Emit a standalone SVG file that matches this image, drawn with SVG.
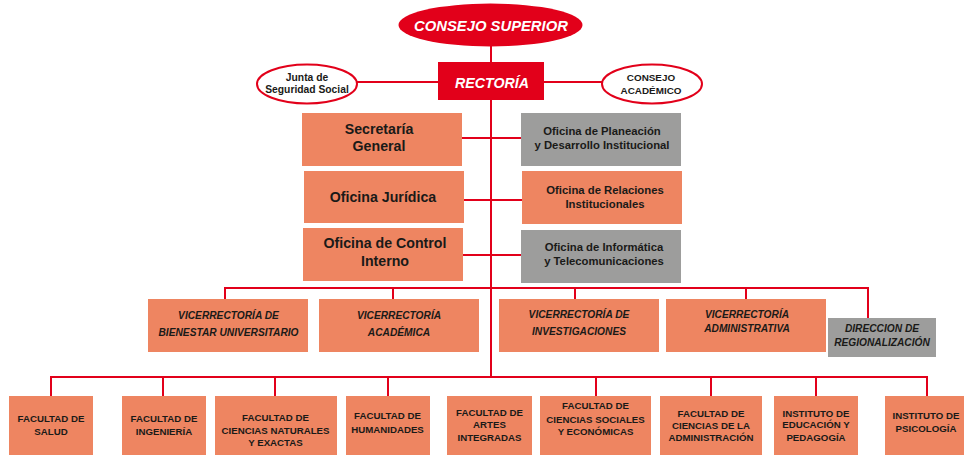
<svg xmlns="http://www.w3.org/2000/svg" width="964" height="455" viewBox="0 0 964 455">
<style>
.bg{fill:#ffffff}
.box{fill:#EE8561}
.gray{fill:#9D9D9C}
.redf{fill:#E2001A}
.oval{fill:#ffffff;stroke:#E2001A;stroke-width:2}
.ln{stroke:#E2001A;stroke-width:2;fill:none}
text{font-family:"Liberation Sans",Arial,sans-serif;font-weight:bold;fill:#1A1A18;text-anchor:middle}
.w{fill:#ffffff;font-style:italic}
.it{font-style:italic}
.f14{font-size:14.2px}
.f11{font-size:11.3px}
.f10{font-size:10.2px}
.f9{font-size:9.7px}
</style>
<rect class="bg" x="0" y="0" width="964" height="455"/>
<g id="connectors">
<path class="ln" d="M491 46 V377"/>
<path class="ln" d="M357 82 H602"/>
<path class="ln" d="M462 138 H521 M464 200 H522 M463 255 H521"/>
<path class="ln" d="M225 299 V288 H868 V318 M393 288 V299 M575 288 V299 M746 288 V299"/>
<path class="ln" d="M51 396 V377 H927 V396 M163 377 V396 M275 377 V396 M388 377 V396 M596 377 V396 M711 377 V396 M816 377 V396"/>
</g>
<g id="consejo-superior">
<ellipse class="redf" cx="490.5" cy="25" rx="92" ry="21.5"/>
<text class="w" x="491" y="31" style="font-size:14.8px">CONSEJO SUPERIOR</text>
</g>
<g id="rectoria">
<rect class="redf" x="438" y="62" width="106" height="38"/>
<text class="w" x="492" y="87.5" style="font-size:14.2px">RECTORÍA</text>
</g>
<g id="junta">
<ellipse class="oval" cx="307" cy="84" rx="50" ry="19.5"/>
<text x="307" y="80.5" style="font-size:10.3px">Junta de</text>
<text x="307" y="92.5" style="font-size:10.3px">Seguridad Social</text>
</g>
<g id="consejo-academico">
<ellipse class="oval" cx="652" cy="84" rx="50" ry="19.5"/>
<text x="651" y="80.5" style="font-size:9.9px">CONSEJO</text>
<text x="651" y="93.5" style="font-size:9.9px">ACADÉMICO</text>
</g>
<g id="secretaria">
<rect class="box" x="302" y="113" width="160" height="53"/>
<text class="f14" x="379" y="134">Secretaría</text>
<text class="f14" x="379" y="151">General</text>
</g>
<g id="planeacion">
<rect class="gray" x="521" y="113" width="160" height="53"/>
<text class="f11" x="602" y="135">Oficina de Planeación</text>
<text class="f11" x="602" y="149">y Desarrollo Institucional</text>
</g>
<g id="juridica">
<rect class="box" x="304" y="171" width="160" height="52"/>
<text class="f14" x="383" y="202">Oficina Jurídica</text>
</g>
<g id="relaciones">
<rect class="box" x="522" y="171" width="160" height="53"/>
<text class="f11" x="605" y="194">Oficina de Relaciones</text>
<text class="f11" x="605" y="207.5">Institucionales</text>
</g>
<g id="control">
<rect class="box" x="303" y="228" width="160" height="53"/>
<text class="f14" x="385" y="248">Oficina de Control</text>
<text class="f14" x="385" y="266">Interno</text>
</g>
<g id="informatica">
<rect class="gray" x="521" y="230" width="160" height="53"/>
<text class="f11" x="604" y="251">Oficina de Informática</text>
<text class="f11" x="604" y="264.5">y Telecomunicaciones</text>
</g>
<g id="vic-bienestar">
<rect class="box" x="148" y="299" width="160" height="53"/>
<text class="f10 it" x="228.5" y="319">VICERRECTORÍA DE</text>
<text class="f10 it" x="228.5" y="336">BIENESTAR UNIVERSITARIO</text>
</g>
<g id="vic-academica">
<rect class="box" x="319" y="299" width="160" height="53"/>
<text class="f10 it" x="399" y="319">VICERRECTORÍA</text>
<text class="f10 it" x="399" y="336">ACADÉMICA</text>
</g>
<g id="vic-investigaciones">
<rect class="box" x="499" y="299" width="160" height="53"/>
<text class="f10 it" x="579" y="318">VICERRECTORÍA DE</text>
<text class="f10 it" x="579" y="335">INVESTIGACIONES</text>
</g>
<g id="vic-administrativa">
<rect class="box" x="666" y="299" width="160" height="53"/>
<text class="f10 it" x="747" y="318">VICERRECTORÍA</text>
<text class="f10 it" x="747" y="332">ADMINISTRATIVA</text>
</g>
<g id="regionalizacion">
<rect class="gray" x="828" y="318" width="108" height="39"/>
<text class="f10 it" x="882" y="332">DIRECCION DE</text>
<text class="f10 it" x="882" y="346">REGIONALIZACIÓN</text>
</g>
<g id="fac-salud">
<rect class="box" x="9" y="396" width="84" height="59"/>
<text class="f9" x="51" y="422">FACULTAD DE</text>
<text class="f9" x="51" y="434.5">SALUD</text>
</g>
<g id="fac-ingenieria">
<rect class="box" x="122" y="396" width="84" height="59"/>
<text class="f9" x="164" y="422">FACULTAD DE</text>
<text class="f9" x="164" y="434.5">INGENIERÍA</text>
</g>
<g id="fac-naturales">
<rect class="box" x="215" y="396" width="122" height="59"/>
<text class="f9" x="275.5" y="421">FACULTAD DE</text>
<text class="f9" x="275.5" y="434">CIENCIAS NATURALES</text>
<text class="f9" x="275.5" y="446">Y EXACTAS</text>
</g>
<g id="fac-humanidades">
<rect class="box" x="346" y="396" width="84" height="59"/>
<text class="f9" x="387.5" y="419">FACULTAD DE</text>
<text class="f9" x="387.5" y="432.5">HUMANIDADES</text>
</g>
<g id="fac-artes">
<rect class="box" x="447" y="396" width="85" height="59"/>
<text class="f9" x="489.5" y="415.5">FACULTAD DE</text>
<text class="f9" x="489.5" y="427.5">ARTES</text>
<text class="f9" x="489.5" y="441">INTEGRADAS</text>
</g>
<g id="fac-sociales">
<rect class="box" x="540" y="396" width="111" height="59"/>
<text class="f9" x="595.5" y="409">FACULTAD DE</text>
<text class="f9" x="595.5" y="422.5">CIENCIAS SOCIALES</text>
<text class="f9" x="595.5" y="435">Y ECONÓMICAS</text>
</g>
<g id="fac-administracion">
<rect class="box" x="660" y="396" width="102" height="59"/>
<text class="f9" x="711" y="417">FACULTAD DE</text>
<text class="f9" x="711" y="428.5">CIENCIAS DE LA</text>
<text class="f9" x="711" y="441">ADMINISTRACIÓN</text>
</g>
<g id="inst-educacion">
<rect class="box" x="774" y="396" width="84" height="59"/>
<text class="f9" x="816" y="417">INSTITUTO DE</text>
<text class="f9" x="816" y="428">EDUCACIÓN Y</text>
<text class="f9" x="816" y="441">PEDAGOGÍA</text>
</g>
<g id="inst-psicologia">
<rect class="box" x="885" y="396" width="79" height="59"/>
<text class="f9" x="926" y="419">INSTITUTO DE</text>
<text class="f9" x="926" y="432">PSICOLOGÍA</text>
</g>
</svg>
